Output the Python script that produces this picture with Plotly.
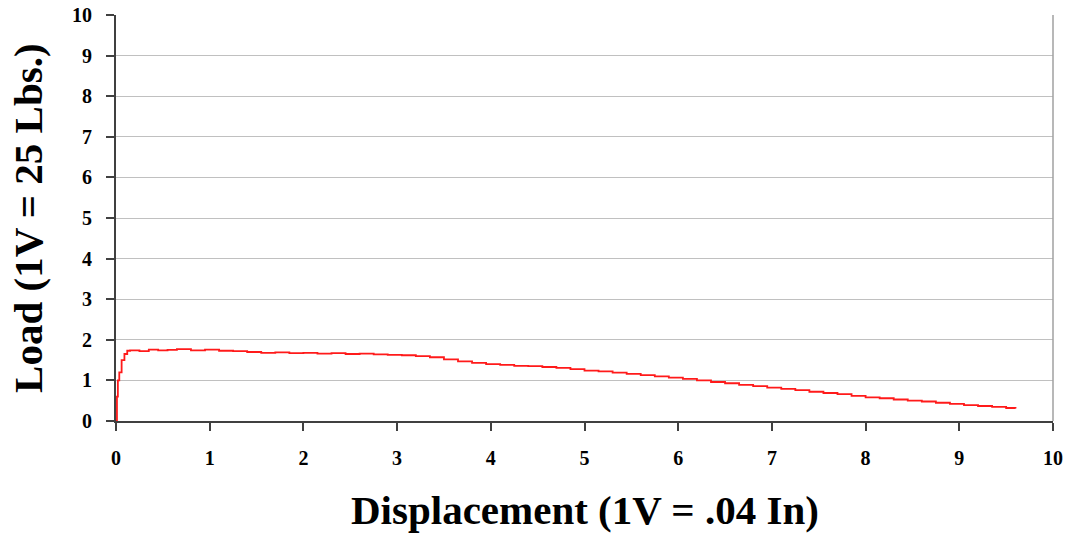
import plotly.graph_objects as go

displacement = [0, 0.01, 0.02, 0.035, 0.06, 0.09, 0.12, 0.15,
                0.25, 0.35, 0.45, 0.55, 0.65,
                0.8, 0.95, 1.1, 1.25, 1.4, 1.55, 1.7, 1.85, 2.0, 2.15,
                2.3, 2.45, 2.6, 2.75, 2.9, 3.05, 3.2, 3.35, 3.5, 3.65,
                3.8, 3.95, 4.1, 4.25, 4.4, 4.55, 4.7, 4.85, 5.0, 5.15,
                5.3, 5.45, 5.6, 5.75, 5.9, 6.05, 6.2, 6.35, 6.5, 6.65,
                6.8, 6.95, 7.1, 7.25, 7.4, 7.55, 7.7, 7.85, 8.0, 8.15,
                8.3, 8.45, 8.6, 8.75, 8.9, 9.05, 9.2, 9.35, 9.5, 9.6]
load = [0, 0.6, 1.0, 1.2, 1.5, 1.65, 1.73, 1.74,
        1.72, 1.76, 1.74, 1.75, 1.77,
        1.74, 1.76, 1.73, 1.72, 1.70, 1.68, 1.69, 1.67, 1.68, 1.66,
        1.67, 1.65, 1.66, 1.64, 1.63, 1.62, 1.60, 1.57, 1.52, 1.47,
        1.43, 1.40, 1.38, 1.36, 1.35, 1.33, 1.31, 1.28, 1.24, 1.22,
        1.19, 1.16, 1.13, 1.10, 1.07, 1.04, 1.00, 0.96, 0.93, 0.89,
        0.86, 0.82, 0.79, 0.76, 0.72, 0.69, 0.66, 0.62, 0.58, 0.56,
        0.53, 0.50, 0.48, 0.45, 0.42, 0.39, 0.37, 0.35, 0.32, 0.31]

x_title = "Displacement (1V = .04 In)"
y_title = "Load (1V = 25 Lbs.)"

FONT = "Liberation Serif"
tickfont = dict(family=FONT, size=20, color="black", weight="bold")

fig = go.Figure()
fig.add_trace(go.Scatter(x=displacement, y=load, mode="lines",
                         line=dict(color="#FF1A1A", width=1.8, shape="hv"),
                         showlegend=False, hoverinfo="x+y"))

fig.update_layout(
    width=1073, height=542,
    margin=dict(l=116, r=20, t=15, b=121),
    paper_bgcolor="white", plot_bgcolor="white",
    font=dict(family=FONT, color="black"),
    xaxis=dict(range=[0, 10], dtick=1, tick0=0, showgrid=False, zeroline=False,
               automargin=False,
               showline=True, linecolor="#404040", linewidth=2,
               ticks="outside", ticklen=8, tickwidth=1.5, tickcolor="#404040",
               tickfont=tickfont, ticklabelstandoff=10),
    yaxis=dict(range=[0, 10], dtick=1, tick0=0, showgrid=True, gridcolor="#C0C0C0",
               gridwidth=1, zeroline=False, automargin=False,
               showline=True, linecolor="#404040", linewidth=2,
               ticks="outside", ticklen=8, tickwidth=1.5, tickcolor="#404040",
               tickfont=tickfont, ticklabelstandoff=10),
    shapes=[dict(type="line", xref="x domain", yref="y domain", x0=1, x1=1, y0=0, y1=1,
                 line=dict(color="#A0A0A0", width=1.5))],
    annotations=[
        dict(text="<b>" + x_title + "</b>", xref="paper", yref="paper", x=0.5, y=-0.22,
             xanchor="center", yanchor="middle", showarrow=False,
             font=dict(family=FONT, size=41, color="black")),
        dict(text="<b>" + y_title + "</b>", xref="paper", yref="paper", x=-0.094, y=0.5,
             xanchor="center", yanchor="middle", textangle=-90, showarrow=False,
             font=dict(family=FONT, size=41, color="black")),
    ],
)

fig.write_html("out.html")
